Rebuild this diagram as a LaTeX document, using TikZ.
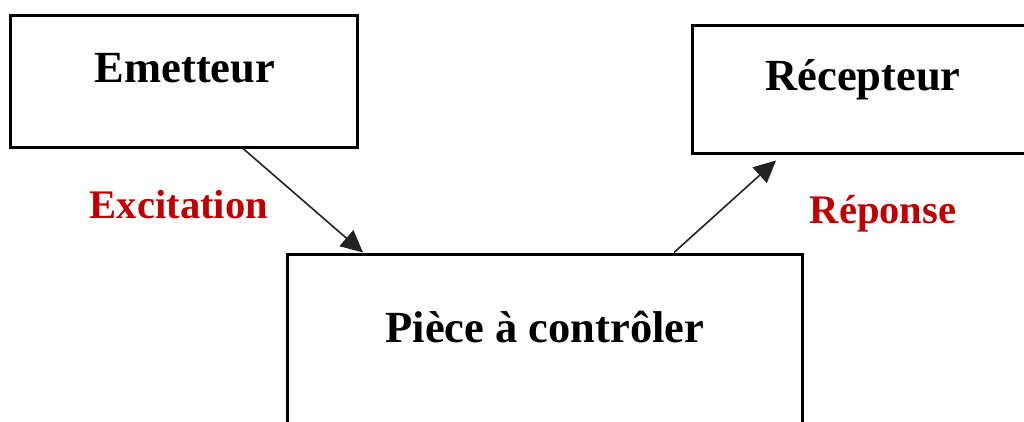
\documentclass[tikz,border=0pt]{standalone}
\usepackage{fontspec}
\setmainfont{Liberation Serif}
\usetikzlibrary{arrows.meta}
\definecolor{lblred}{HTML}{C00000}
\definecolor{linegray}{HTML}{222222}
\tikzset{
  boxnode/.style={draw=black, line width=3pt, inner sep=0pt, fill=none},
  title/.style={font=\bfseries\fontsize{44.5}{50}\selectfont, anchor=base, inner sep=0pt},
  lbl/.style={font=\bfseries\fontsize{40.6}{46}\selectfont, text=lblred, anchor=base, inner sep=0pt},
  arr/.style={draw=linegray, line width=1.6pt, -{Triangle[length=22pt,width=21pt]}}
}
\begin{document}
\begin{tikzpicture}[x=1pt,y=-1pt]
\useasboundingbox (0,0) rectangle (1024,421);
\clip (0,0) rectangle (1024,421);
% boxes
\node[boxnode, minimum width=347pt, minimum height=132pt] (em) at (183.5,81) {};
\node[boxnode, minimum width=342pt, minimum height=128pt] (rec) at (863,89) {};
\node[boxnode, minimum width=515pt, minimum height=206pt] (piece) at (544.5,357) {};
% titles
\node[title] (emt) at (185,82) {Emetteur};
\node[title] (rect) at (863,90) {Récepteur};
\node[title] (piecet) at (545,342) {Pièce à contrôler};
% labels
\node[lbl] (exc) at (179,218) {Excitation};
\node[lbl] (rep) at (883,223) {Réponse};
% arrows
\draw[arr] ([xshift=59.5pt]em.south) -- ([xshift=-181.5pt]piece.north);
\draw[arr] ([xshift=129.5pt]piece.north) -- ([xshift=-87pt,yshift=-6pt]rec.south);
\end{tikzpicture}
\end{document}
